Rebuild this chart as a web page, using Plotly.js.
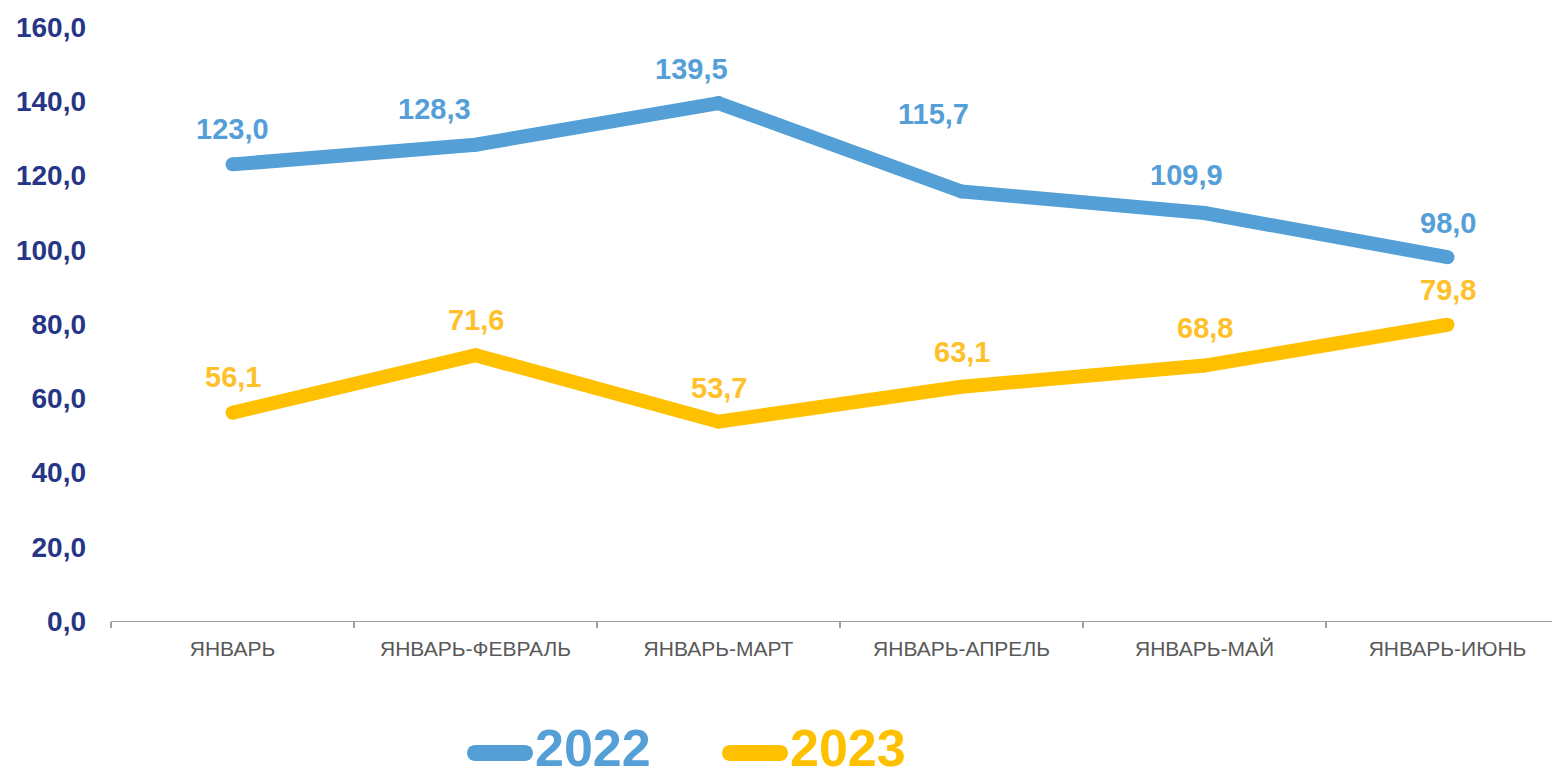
<!DOCTYPE html>
<html>
<head>
<meta charset="utf-8">
<script src="https://cdn.plot.ly/plotly-3.0.1.min.js"></script>
<style>html,body{margin:0;padding:0;background:#fff;}#chart{width:1552px;height:779px;}</style>
</head>
<body>
<div id="chart"></div>
<script>
// ---- data ----
var categories = ["ЯНВАРЬ", "ЯНВАРЬ-ФЕВРАЛЬ", "ЯНВАРЬ-МАРТ", "ЯНВАРЬ-АПРЕЛЬ", "ЯНВАРЬ-МАЙ", "ЯНВАРЬ-ИЮНЬ"];
var values2022 = [123.0, 128.3, 139.5, 115.7, 109.9, 98.0];
var values2023 = [56.1, 71.6, 53.7, 63.1, 68.8, 79.8];
var seriesNames = ["2022", "2023"];
var yTickValues = [0, 20, 40, 60, 80, 100, 120, 140, 160];

// ---- styles / label placement ----
var blue = "#539FD6", yellow = "#FFC000";
var blueLabel = "#559FD8", yellowLabel = "#FFC129";
var shift2022 = [[0, 35], [-41, 36], [-27, 34], [-28, 77], [-18, 38], [0, 34]];
var shift2023 = [[0, 36], [0, 35], [0, 34], [0, 35], [0, 38], [0, 35]];

function fmt(v) { return v.toFixed(1).replace('.', ','); }

function lineTrace(vals, color, name) {
  return {
    x: categories, y: vals, type: 'scatter', mode: 'lines+markers', name: name,
    line: {color: color, width: 14},
    marker: {color: color, size: 14, line: {width: 0}},
    hoverinfo: 'skip', showlegend: false, cliponaxis: false
  };
}

var traces = [lineTrace(values2022, blue, seriesNames[0]), lineTrace(values2023, yellow, seriesNames[1])];

var annotations = [];
function addLabels(vals, shifts, color) {
  vals.forEach(function (v, i) {
    annotations.push({
      x: categories[i], y: v, xref: 'x', yref: 'y', text: fmt(v), showarrow: false,
      xanchor: 'center', yanchor: 'middle', xshift: shifts[i][0], yshift: shifts[i][1],
      font: {family: 'Liberation Sans, Arial, sans-serif', size: 29, color: color, weight: 'bold'}
    });
  });
}
addLabels(values2022, shift2022, blueLabel);
addLabels(values2023, shift2023, yellowLabel);

// custom legend (pixel positions converted to paper coords)
var L = 111, W = 1441, T = 27, H = 594;
function px2x(p) { return (p - L) / W; }
function px2y(p) { return (T + H - p) / H; }
function stadium(r, half) {
  var k = 0.5523 * r;
  return 'M' + (-half) + ',' + (-r) + ' L' + half + ',' + (-r) +
    ' C' + (half + k) + ',' + (-r) + ' ' + (half + r) + ',' + (-k) + ' ' + (half + r) + ',0' +
    ' C' + (half + r) + ',' + k + ' ' + (half + k) + ',' + r + ' ' + half + ',' + r +
    ' L' + (-half) + ',' + r +
    ' C' + (-half - k) + ',' + r + ' ' + (-half - r) + ',' + k + ' ' + (-half - r) + ',0' +
    ' C' + (-half - r) + ',' + (-k) + ' ' + (-half - k) + ',' + (-r) + ' ' + (-half) + ',' + (-r) + ' Z';
}
var legendItems = [
  {name: seriesNames[0], color: blue, symCx: 500, textX: 533},
  {name: seriesNames[1], color: yellow, symCx: 755, textX: 788}
];
var shapes = [];
legendItems.forEach(function (it) {
  shapes.push({
    type: 'path', xref: 'paper', yref: 'paper', xsizemode: 'pixel', ysizemode: 'pixel',
    xanchor: px2x(it.symCx), yanchor: px2y(753), path: stadium(8, 25),
    fillcolor: it.color, line: {width: 0}
  });
  annotations.push({
    x: px2x(it.textX), y: px2y(779), xref: 'paper', yref: 'paper', text: it.name, showarrow: false,
    xanchor: 'left', yanchor: 'bottom',
    font: {family: 'Liberation Sans, Arial, sans-serif', size: 52, color: it.color, weight: 'bold'}
  });
});

var layout = {
  width: 1552, height: 779,
  margin: {l: L, r: 0, t: T, b: 779 - T - H, pad: 0},
  paper_bgcolor: '#ffffff', plot_bgcolor: '#ffffff',
  separators: ', ',
  showlegend: false,
  xaxis: {
    type: 'category', range: [-0.5, 5.43], tickson: 'boundaries', ticks: 'outside', ticklen: 6,
    tickcolor: '#A0A0A0', tickwidth: 1.3, showline: true, linecolor: '#A0A0A0', linewidth: 1.3,
    showgrid: false, zeroline: false, fixedrange: true, ticklabelstandoff: 8,
    tickfont: {family: 'Liberation Sans, Arial, sans-serif', size: 21, color: '#595959'}
  },
  yaxis: {
    range: [0, 160], tickvals: yTickValues, tickformat: '.1f', showgrid: false, zeroline: false,
    showline: false, ticks: '', ticklabelstandoff: 24, fixedrange: true,
    tickfont: {family: 'Liberation Sans, Arial, sans-serif', size: 28, color: '#263585', weight: 'bold'}
  },
  annotations: annotations,
  shapes: shapes
};

Plotly.newPlot('chart', traces, layout, {displayModeBar: false, staticPlot: true});
</script>
</body>
</html>
